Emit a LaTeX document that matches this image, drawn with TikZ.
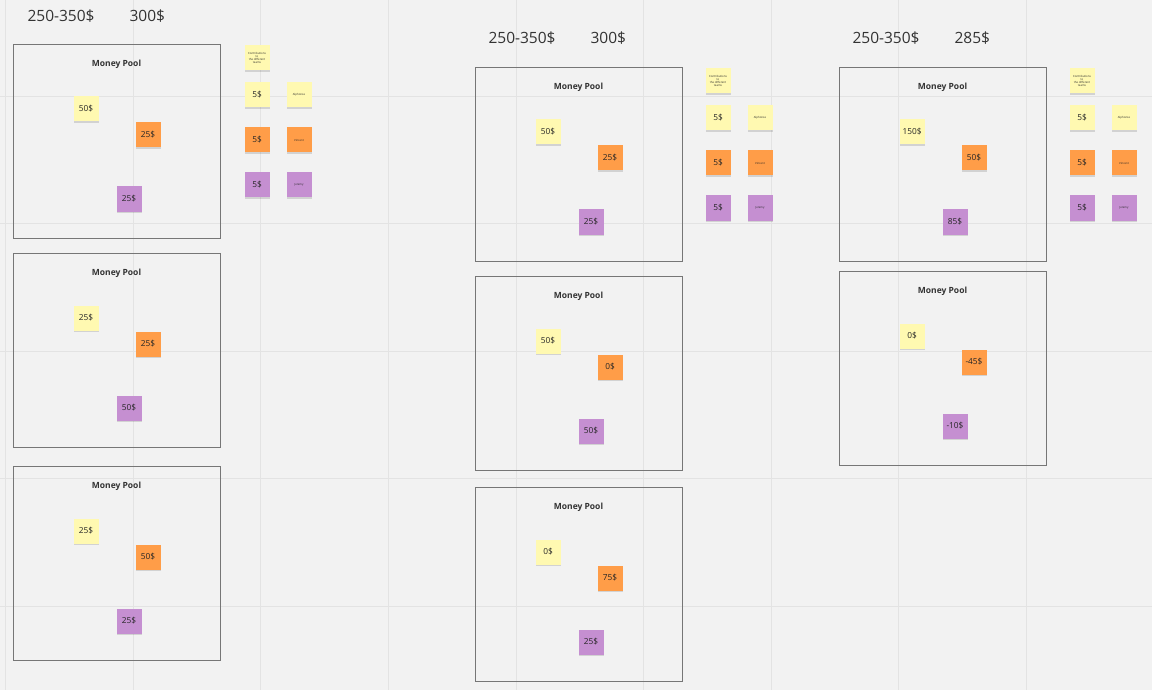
\documentclass[tikz,border=0pt]{standalone}
\usepackage{fontspec}
\setmainfont{Open Sans}
\usetikzlibrary{shadows}
\definecolor{bg}{HTML}{F2F2F2}
\definecolor{gridc}{HTML}{E3E3E3}
\definecolor{framec}{HTML}{767676}
\definecolor{txt}{HTML}{333333}
\definecolor{yel}{HTML}{FFF9B1}
\definecolor{org}{HTML}{FF9D48}
\definecolor{pur}{HTML}{C58FD1}
\tikzset{
  frame/.style={draw=framec, line width=1.2pt, minimum width=207pt, minimum height=194pt, inner sep=0pt, anchor=north west},
  pooltitle/.style={font=\fontsize{8.5}{10}\selectfont\bfseries, text=txt},
  sticky/.style={minimum width=25pt, minimum height=25pt, inner sep=0pt, text=black!85,
     drop shadow={shadow xshift=0.5pt, shadow yshift=-1.8pt, opacity=0.13, fill=black}},
  val/.style={sticky, font=\fontsize{8.3}{10}\selectfont},
  tiny/.style={sticky, font=\fontsize{2.8}{3.2}\selectfont, align=center},
  ynote/.style={fill=yel},
  onote/.style={fill=org},
  pnote/.style={fill=pur},
  price/.style={font=\fontsize{15.5}{18}\selectfont, text=txt, anchor=west},
}
\newcommand\mpool[6]{%
  \begin{scope}[shift={(#2,#3)}]
    \node[frame] (#1) at (0,0) {};
    \node[pooltitle] (#1t) at (103.5,20) {Money Pool};
    \node[val,ynote] (#1y) at (73,65) {#4};
    \node[val,onote] (#1o) at (135,91) {#5};
    \node[val,pnote] (#1p) at (116,155) {#6};
  \end{scope}}
\newcommand\sidenotes[3]{%
  \begin{scope}[shift={(#2,#3)}]
    \node[tiny,ynote] (#1h) at (0,-37) {Contributions\\to\\the different\\teams};
    \node[val,ynote] (#1a) at (0,0) {5\$};
    \node[tiny,ynote] (#1an) at (42,0) {Alphonse};
    \node[val,onote] (#1b) at (0,45) {5\$};
    \node[tiny,onote] (#1bn) at (42,45) {Vincent};
    \node[val,pnote] (#1c) at (0,90) {5\$};
    \node[tiny,pnote] (#1cn) at (42,90) {Jeremy};
  \end{scope}}
\begin{document}
\begin{tikzpicture}[x=1pt,y=-1pt]
  \fill[bg] (0,0) rectangle (1152,690);
  \useasboundingbox (0,0) rectangle (1152,690);
  \foreach \gx in {5,133,260,388,516,643,771,898,1026}
    \draw[gridc, line width=0.8pt] (\gx,0) -- (\gx,690);
  \foreach \gy in {96,223,351,478,606}
    \draw[gridc, line width=0.8pt] (0,\gy) -- (1152,\gy);
  % prices
  \node[price] (r1) at (24,16) {250-350\$};
  \node[price] (t1) at (126,16) {300\$};
  \node[price] (r2) at (485,38) {250-350\$};
  \node[price] (t2) at (587,38) {300\$};
  \node[price] (r3) at (849,38) {250-350\$};
  \node[price] (t3) at (951,38) {285\$};
  % pools
  \mpool{a1}{13}{44}{50\$}{25\$}{25\$}
  \mpool{a2}{13}{253}{25\$}{25\$}{50\$}
  \mpool{a3}{13}{466}{25\$}{50\$}{25\$}
  \mpool{b1}{475}{67}{50\$}{25\$}{25\$}
  \mpool{b2}{475}{276}{50\$}{0\$}{50\$}
  \mpool{b3}{475}{487}{0\$}{75\$}{25\$}
  \mpool{c1}{839}{67}{150\$}{50\$}{85\$}
  \mpool{c2}{839}{271}{0\$}{-45\$}{-10\$}
  % side notes
  \sidenotes{s1}{257}{95}
  \sidenotes{s2}{718}{118}
  \sidenotes{s3}{1082}{118}
\end{tikzpicture}
\end{document}
